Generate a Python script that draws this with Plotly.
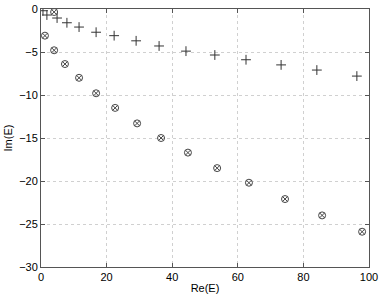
import plotly.graph_objects as go

# data
plus_re = [0.6, 1.8, 4.9, 7.9, 11.6, 16.8, 22.3, 29.0, 36.0, 44.2, 53.0, 62.5, 73.2, 84.1, 96.3]
plus_im = [-0.2, -0.7, -1.05, -1.6, -2.1, -2.7, -3.1, -3.7, -4.3, -4.9, -5.35, -5.9, -6.5, -7.1, -7.8]
circ_re = [4.0, 1.2, 4.0, 7.3, 11.6, 16.8, 22.6, 29.3, 36.6, 44.8, 53.7, 63.4, 74.4, 85.7, 97.9]
circ_im = [-0.35, -3.1, -4.8, -6.4, -8.0, -9.8, -11.5, -13.3, -15.0, -16.7, -18.5, -20.2, -22.1, -24.0, -25.9]
x_ticks = [0, 20, 40, 60, 80, 100]
y_ticks = [0, -5, -10, -15, -20, -25, -30]

fig = go.Figure()
fig.add_trace(go.Scatter(x=plus_re, y=plus_im, mode="markers",
                         marker=dict(symbol="cross-thin-open", size=7, color="#333333",
                                     line=dict(color="#333333", width=1)),
                         showlegend=False))
fig.add_trace(go.Scatter(x=circ_re, y=circ_im, mode="markers",
                         marker=dict(symbol="circle-x-open", size=7, color="#444444",
                                     line=dict(color="#444444", width=1)),
                         showlegend=False))

axis_common = dict(showline=True, linecolor="#555555", linewidth=1, mirror="ticks",
                   ticks="inside", ticklen=4, tickcolor="#555555",
                   showgrid=True, gridcolor="#d0d0d0", griddash="dot", gridwidth=1,
                   zeroline=False, automargin=False,
                   tickfont=dict(family="Liberation Sans, Arial", size=11, color="black"))

fig.update_xaxes(range=[0, 100], tickvals=x_ticks, ticktext=[str(v) for v in x_ticks],
                 title=dict(text="Re(E)", standoff=2, font=dict(family="Liberation Sans, Arial", size=11)),
                 **axis_common)
fig.update_yaxes(range=[-30, 0], tickvals=y_ticks,
                 ticktext=[("\u2212" + str(-v)) if v < 0 else str(v) for v in y_ticks],
                 title=dict(text="Im(E)", standoff=4, font=dict(family="Liberation Sans, Arial", size=11)),
                 **axis_common)

fig.update_layout(width=382, height=297, margin=dict(l=41, r=13, t=9, b=30),
                  plot_bgcolor="white", paper_bgcolor="white",
                  font=dict(family="Liberation Sans, Arial", size=11, color="black"))

fig.write_html("out.html", config={"displayModeBar": False},
               post_script="document.body.style.margin='0';")
